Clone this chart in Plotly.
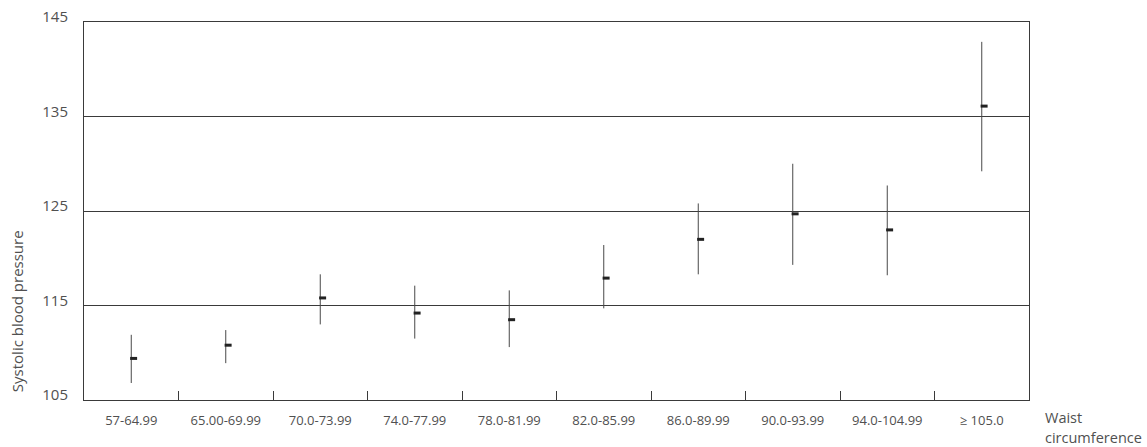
import plotly.graph_objects as go

categories = ["57-64.99", "65.00-69.99", "70.0-73.99", "74.0-77.99", "78.0-81.99",
              "82.0-85.99", "86.0-89.99", "90.0-93.99", "94.0-104.99", "≥ 105.0"]
mean_sbp = [109.4, 110.8, 115.8, 114.2, 113.5, 117.9, 122.0, 124.7, 123.0, 136.1]
upper_ci = [111.9, 112.4, 118.3, 117.1, 116.6, 121.4, 125.8, 130.0, 127.7, 142.9]
lower_ci = [106.8, 108.9, 113.0, 111.5, 110.6, 114.7, 118.3, 119.3, 118.2, 129.2]
y_ticks = [105, 115, 125, 135, 145]
x_title_lines = ["Waist", "circumference"]

idx = list(range(len(categories)))
err_plus = [u - m for u, m in zip(upper_ci, mean_sbp)]
err_minus = [m - l for m, l in zip(mean_sbp, lower_ci)]
boundaries = [i + 0.5 for i in idx[:-1]]
marker_shift = 0.025

TXT = "#505050"
LINE = "#3a3a3a"
FONT = "Open Sans"

fig = go.Figure()
fig.add_trace(go.Scatter(
    x=idx, y=mean_sbp, mode="markers",
    marker=dict(size=1, opacity=0),
    error_y=dict(type="data", array=err_plus, arrayminus=err_minus,
                 symmetric=False, width=0, thickness=1, color="#484848"),
    hoverinfo="skip", showlegend=False,
))
fig.add_trace(go.Scatter(
    x=[i + marker_shift for i in idx], y=mean_sbp, mode="markers",
    marker=dict(symbol="line-ew", size=5, line=dict(width=3, color="#222222")),
    showlegend=False,
))

fig.update_layout(
    width=1147, height=447,
    margin=dict(l=84, r=118, t=22, b=47, autoexpand=False),
    paper_bgcolor="white", plot_bgcolor="white",
    font=dict(family=FONT, color=TXT, size=13),
    xaxis=dict(
        range=[-0.5, 9.5], tickmode="array", tickvals=idx, ticktext=categories,
        ticks="", showgrid=False, zeroline=False, automargin=False,
        showline=True, linecolor=LINE, linewidth=1, mirror=True,
        tickfont=dict(size=13, color=TXT, family=FONT),
        ticklabelstandoff=8,
        minor=dict(tickmode="array", tickvals=boundaries, ticks="inside",
                   ticklen=9, tickwidth=1, tickcolor=LINE, showgrid=False),
    ),
    yaxis=dict(
        range=[105, 145], tickmode="array", tickvals=y_ticks,
        ticks="", showgrid=True, gridcolor=LINE, gridwidth=1, zeroline=False,
        automargin=False,
        showline=True, linecolor=LINE, linewidth=1, mirror=True,
        tickfont=dict(size=15, color=TXT, family=FONT),
        ticklabelstandoff=12, ticklabelshift=-5,
    ),
    annotations=[
        dict(text="Systolic blood pressure", textangle=-90, xref="paper", yref="paper",
             x=-0.0709, y=0.235, xanchor="center", yanchor="middle", showarrow=False,
             font=dict(size=15, color=TXT, family=FONT)),
        dict(text=x_title_lines[0], xref="paper", yref="paper",
             x=1.0148, y=-0.0476, xanchor="left", yanchor="middle", align="left",
             showarrow=False, font=dict(size=14.5, color=TXT, family=FONT)),
        dict(text=x_title_lines[1], xref="paper", yref="paper",
             x=1.0148, y=-0.0979, xanchor="left", yanchor="middle", align="left",
             showarrow=False, font=dict(size=14.5, color=TXT, family=FONT)),
    ],
)

fig.write_html("out.html", post_script="document.body.style.margin='0';",
               config={"displayModeBar": False})
